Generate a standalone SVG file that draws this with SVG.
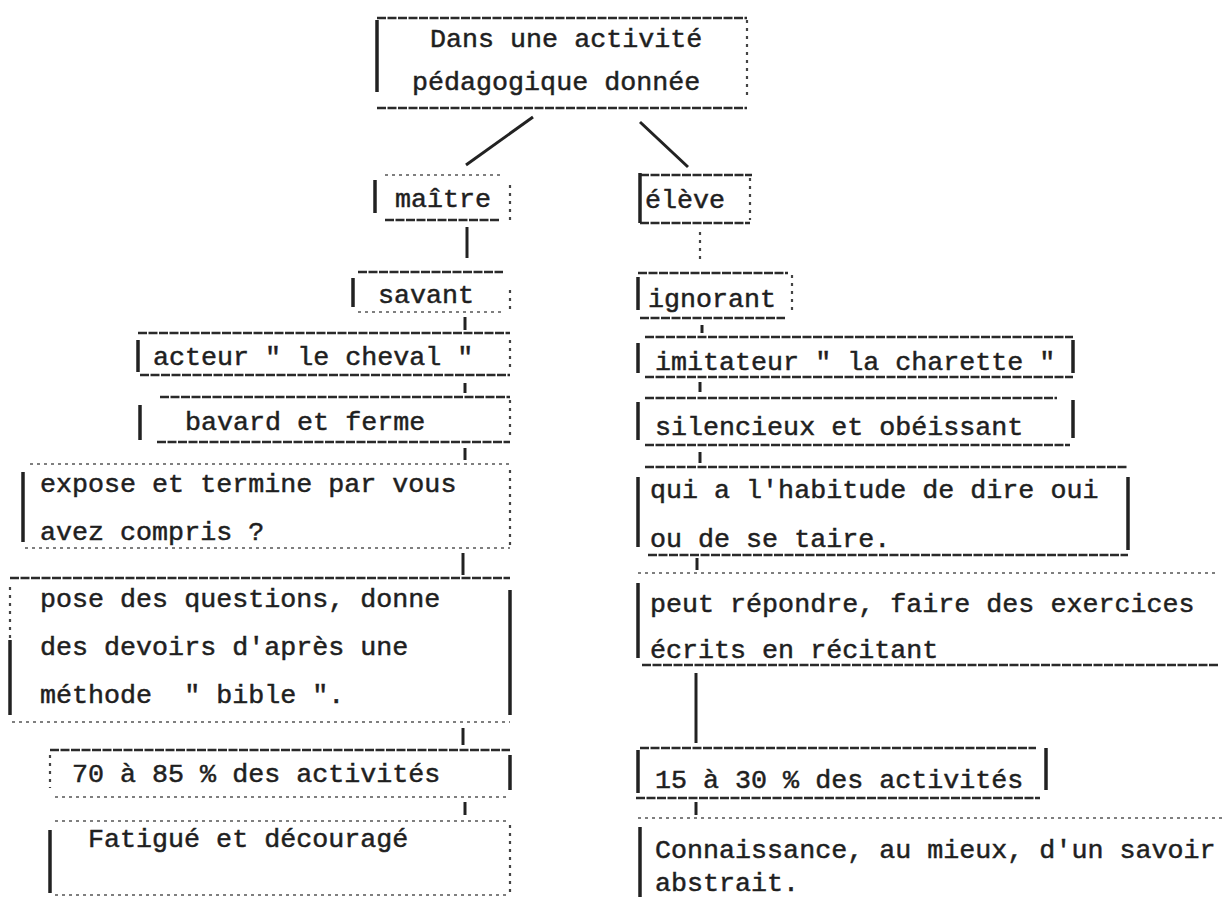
<svg xmlns="http://www.w3.org/2000/svg" width="1224" height="897" viewBox="0 0 1224 897">
<style>
text{font-family:"Liberation Mono","Courier New",monospace;font-size:26.7px;fill:#1f1f1f;stroke:#1f1f1f;stroke-width:0.5;white-space:pre;}
.ht{stroke:#2a2a2a;stroke-width:2.6;stroke-dasharray:9 1.5;fill:none;}
.hd{stroke:#555;stroke-width:1.6;stroke-dasharray:3 4;fill:none;}
.vb{stroke:#222;stroke-width:3.5;fill:none;}
.vd{stroke:#444;stroke-width:2.2;stroke-dasharray:3 5;fill:none;}
.cn{stroke:#222;stroke-width:3;fill:none;}
.dg{stroke:#222;stroke-width:3;fill:none;}
</style>
<rect width="1224" height="897" fill="#fff"/>
<g id="connectors">
<line class="dg" x1="533" y1="117" x2="466" y2="165"/>
<line class="dg" x1="640" y1="122" x2="688" y2="167"/>
<line class="cn" x1="467" y1="227" x2="467" y2="258"/>
<line class="vd" x1="700" y1="232" x2="700" y2="260"/>
<line class="cn" x1="465" y1="317" x2="465" y2="330"/>
<line class="cn" x1="702" y1="325" x2="702" y2="333"/>
<line class="cn" x1="465" y1="383" x2="465" y2="393"/>
<line class="cn" x1="700" y1="382" x2="700" y2="392"/>
<line class="cn" x1="465" y1="448" x2="465" y2="460"/>
<line class="cn" x1="700" y1="452" x2="700" y2="463"/>
<line class="cn" x1="463" y1="553" x2="463" y2="575"/>
<line class="cn" x1="697" y1="558" x2="697" y2="570"/>
<line class="cn" x1="463" y1="728" x2="463" y2="745"/>
<line class="cn" x1="696" y1="673" x2="696" y2="743"/>
<line class="cn" x1="465" y1="802" x2="465" y2="815"/>
<line class="cn" x1="696" y1="802" x2="696" y2="815"/>
</g>
<g id="n-top">
<line class="ht" x1="377" y1="18" x2="747" y2="18"/>
<line class="ht" x1="377" y1="108" x2="747" y2="108"/>
<line class="vb" x1="377" y1="20" x2="377" y2="92"/>
<line class="vd" x1="747" y1="20" x2="747" y2="100"/>
<text x="430" y="47">Dans une activité</text>
<text x="412" y="90">pédagogique donnée</text>
</g>
<g id="n-maitre">
<line class="hd" x1="385" y1="175" x2="503" y2="175"/>
<line class="ht" x1="385" y1="220" x2="500" y2="220"/>
<line class="vb" x1="375" y1="180" x2="375" y2="213"/>
<line class="vd" x1="510" y1="185" x2="510" y2="220"/>
<text x="395" y="207">maître</text>
</g>
<g id="n-eleve">
<line class="ht" x1="640" y1="175" x2="752" y2="175"/>
<line class="ht" x1="640" y1="223" x2="750" y2="223"/>
<line class="vb" x1="640" y1="173" x2="640" y2="223"/>
<line class="vd" x1="750" y1="178" x2="750" y2="220"/>
<text x="645" y="208">élève</text>
</g>
<g id="n-savant">
<line class="ht" x1="358" y1="272" x2="503" y2="272"/>
<line class="hd" x1="358" y1="312" x2="505" y2="312"/>
<line class="vb" x1="353" y1="278" x2="353" y2="307"/>
<line class="vd" x1="510" y1="290" x2="510" y2="310"/>
<text x="378" y="303">savant</text>
</g>
<g id="n-ignorant">
<line class="ht" x1="638" y1="273" x2="788" y2="273"/>
<line class="ht" x1="640" y1="318" x2="785" y2="318"/>
<line class="vb" x1="638" y1="277" x2="638" y2="310"/>
<line class="vd" x1="792" y1="275" x2="792" y2="310"/>
<text x="648" y="307">ignorant</text>
</g>
<g id="n-acteur">
<line class="ht" x1="138" y1="333" x2="510" y2="333"/>
<line class="ht" x1="140" y1="375" x2="510" y2="375"/>
<line class="vb" x1="138" y1="340" x2="138" y2="372"/>
<line class="vd" x1="510" y1="340" x2="510" y2="372"/>
<text x="153" y="365">acteur " le cheval "</text>
</g>
<g id="n-imitateur">
<line class="ht" x1="645" y1="337" x2="1073" y2="337"/>
<line class="ht" x1="645" y1="377" x2="1073" y2="377"/>
<line class="vb" x1="638" y1="343" x2="638" y2="373"/>
<line class="vb" x1="1073" y1="340" x2="1073" y2="373"/>
<text x="655" y="370">imitateur " la charette "</text>
</g>
<g id="n-bavard">
<line class="ht" x1="160" y1="397" x2="510" y2="397"/>
<line class="ht" x1="157" y1="442" x2="510" y2="442"/>
<line class="vb" x1="140" y1="405" x2="140" y2="440"/>
<line class="vd" x1="510" y1="400" x2="510" y2="438"/>
<text x="185" y="430">bavard et ferme</text>
</g>
<g id="n-silencieux">
<line class="ht" x1="645" y1="398" x2="1057" y2="398"/>
<line class="ht" x1="645" y1="445" x2="1070" y2="445"/>
<line class="vb" x1="638" y1="402" x2="638" y2="440"/>
<line class="vb" x1="1073" y1="400" x2="1073" y2="438"/>
<text x="655" y="435">silencieux et obéissant</text>
</g>
<g id="n-expose">
<line class="hd" x1="30" y1="464" x2="510" y2="464"/>
<line class="hd" x1="25" y1="548" x2="510" y2="548"/>
<line class="vb" x1="23" y1="472" x2="23" y2="542"/>
<line class="vd" x1="510" y1="470" x2="510" y2="545"/>
<text x="40" y="492">expose et termine par vous</text>
<text x="40" y="540">avez compris ?</text>
</g>
<g id="n-qui">
<line class="ht" x1="645" y1="467" x2="1128" y2="467"/>
<line class="ht" x1="648" y1="555" x2="1128" y2="555"/>
<line class="vb" x1="638" y1="477" x2="638" y2="547"/>
<line class="vb" x1="1128" y1="477" x2="1128" y2="550"/>
<text x="650" y="498">qui a l'habitude de dire oui</text>
<text x="650" y="547">ou de se taire.</text>
</g>
<g id="n-pose">
<line class="ht" x1="10" y1="578" x2="510" y2="578"/>
<line class="hd" x1="12" y1="722" x2="510" y2="722"/>
<line class="vd" x1="10" y1="587" x2="10" y2="640"/>
<line class="vb" x1="10" y1="640" x2="10" y2="715"/>
<line class="vb" x1="510" y1="590" x2="510" y2="715"/>
<text x="40" y="607">pose des questions, donne</text>
<text x="40" y="655">des devoirs d'après une</text>
<text x="40" y="703">méthode  " bible ".</text>
</g>
<g id="n-peut">
<line class="hd" x1="638" y1="573" x2="1219" y2="573"/>
<line class="ht" x1="642" y1="665" x2="1219" y2="665"/>
<line class="vb" x1="638" y1="583" x2="638" y2="658"/>
<text x="650" y="612">peut répondre, faire des exercices</text>
<text x="650" y="658">écrits en récitant</text>
</g>
<g id="n-70">
<line class="ht" x1="50" y1="750" x2="510" y2="750"/>
<line class="hd" x1="55" y1="797" x2="510" y2="797"/>
<line class="vd" x1="50" y1="755" x2="50" y2="788"/>
<line class="vb" x1="510" y1="755" x2="510" y2="790"/>
<text x="72" y="782">70 à 85 % des activités</text>
</g>
<g id="n-15">
<line class="ht" x1="640" y1="748" x2="1036" y2="748"/>
<line class="ht" x1="636" y1="798" x2="1040" y2="798"/>
<line class="vb" x1="638" y1="750" x2="638" y2="793"/>
<line class="vb" x1="1046" y1="748" x2="1046" y2="790"/>
<text x="655" y="788">15 à 30 % des activités</text>
</g>
<g id="n-fatigue">
<line class="hd" x1="55" y1="821" x2="510" y2="821"/>
<line class="hd" x1="55" y1="895" x2="510" y2="895"/>
<line class="vb" x1="50" y1="830" x2="50" y2="893"/>
<line class="vd" x1="510" y1="825" x2="510" y2="893"/>
<text x="88" y="847">Fatigué et découragé</text>
</g>
<g id="n-connaissance">
<line class="hd" x1="638" y1="818" x2="1222" y2="818"/>
<line class="vb" x1="640" y1="827" x2="640" y2="897"/>
<text x="655" y="858">Connaissance, au mieux, d'un savoir</text>
<text x="655" y="891">abstrait.</text>
</g>
</svg>
